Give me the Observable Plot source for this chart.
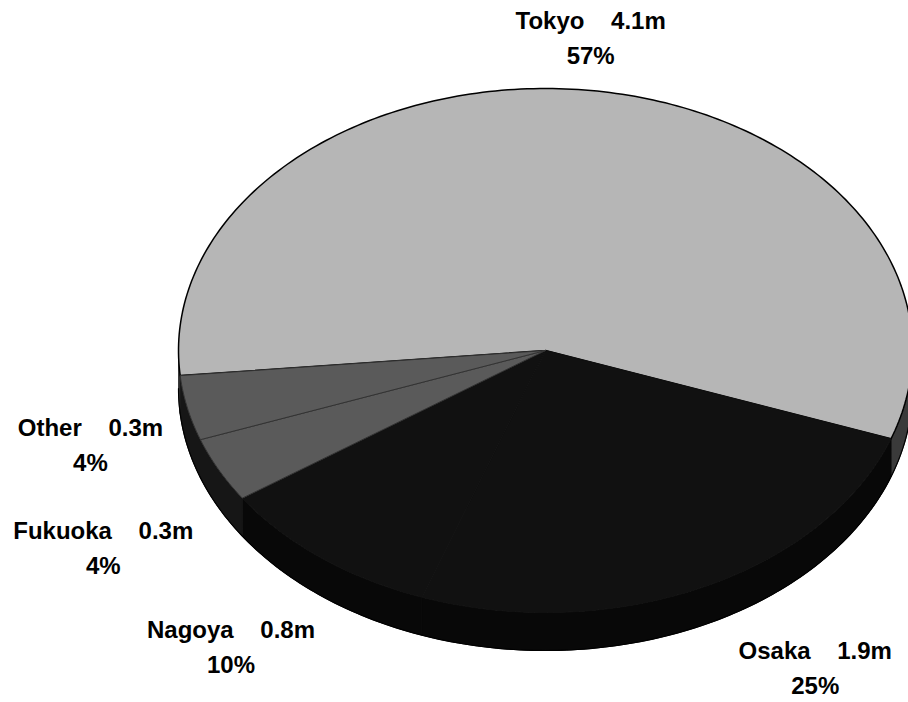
<!DOCTYPE html>
<html>
<head>
<meta charset="utf-8">
<script src="https://cdn.jsdelivr.net/npm/d3@7"></script>
<script src="https://cdn.jsdelivr.net/npm/@observablehq/plot@0.6"></script>
<style>
  html, body { margin: 0; padding: 0; background: #fff; }
  #chart svg text { white-space: pre; }
</style>
</head>
<body>
<div id="chart"></div>
<script>
// ---- data ----
const cities   = ["Tokyo", "Osaka", "Nagoya", "Fukuoka", "Other"];
const values   = [4.1, 1.9, 0.8, 0.3, 0.3];      // millions
const percents = [57, 25, 10, 4, 4];              // share of total

// ---- styling / layout ----
const topFill    = ["#b6b6b6", "#111111", "#111111", "#5a5a5a", "#5a5a5a"];
const sideFill   = ["#3a3a3a", "#080808", "#080808", "#161616", "#161616"];
const topStroke  = ["#000000", "#111111", "#111111", "#333333", "#333333"];
const startDeg = 174.5;       // where Tokyo begins (screen angle, clockwise)
const depth = 0.145;          // thickness of the pie in units of the vertical radius
// label anchors in pie units (x: horizontal radius, y: vertical radius)
const labelX = [0.123, 0.735, -0.857, -1.205, -1.24];
const labelY = [-1.202, 1.203, 1.123, 0.745, 0.352];

const deg = Math.PI / 180;
const total = d3.sum(percents);
let acc = startDeg;
const slices = cities.map((c, i) => {
  const s = acc, e = acc + percents[i] / total * 360;
  acc = e;
  return {i, c, s, e};
});
const pt = (t, dy = 0) => ({x: Math.cos(t * deg), y: Math.sin(t * deg) + dy});
function arc(s, e, dy) {
  const n = Math.max(2, Math.ceil(Math.abs(e - s)));
  return d3.range(n + 1).map(k => pt(s + (e - s) * k / n, dy));
}

const sideMarks = [];
slices.forEach(sl => {
  for (let k = 0; k < 3; k++) {
    const lo = Math.max(sl.s, 360 * k), hi = Math.min(sl.e, 360 * k + 180);
    if (hi > lo) {
      const poly = arc(lo, hi, 0).concat(arc(hi, lo, depth));
      poly.push(poly[0]);
      sideMarks.push(Plot.line(poly, {x: "x", y: "y", fill: sideFill[sl.i], stroke: sideFill[sl.i], strokeWidth: 1}));
    }
  }
});
// outer rim (bottom edge of the pie)
const rim = arc(0, 180, depth);
const topMarks = slices.map(sl => {
  const poly = [{x: 0, y: 0}, ...arc(sl.s, sl.e, 0), {x: 0, y: 0}];
  return Plot.line(poly, {x: "x", y: "y", fill: topFill[sl.i], stroke: topStroke[sl.i],
    strokeWidth: sl.i === 0 ? 1.5 : 1});
});

const labels = cities.map((c, i) => ({
  x: labelX[i], y: labelY[i],
  text: `${c}\u00a0\u00a0\u00a0\u00a0${values[i]}m\n${percents[i]}%`
}));

const chart = Plot.plot({
  width: 908,
  height: 702,
  margin: 0,
  style: {background: "#fff"},
  x: {axis: null, domain: [-1, 1], range: [178, 912]},
  y: {axis: null, domain: [-1, 1], range: [88, 612]},
  marks: [
    ...sideMarks,
    Plot.line(rim, {x: "x", y: "y", stroke: "#000", strokeWidth: 1.2}),
    ...topMarks,
    Plot.text(labels, {x: "x", y: "y", text: "text", fontSize: 24, fontWeight: "bold",
      fontFamily: "Liberation Sans, Arial, sans-serif", lineHeight: 1.46, fill: "#000"})
  ]
});
document.getElementById("chart").append(chart);
</script>
</body>
</html>
